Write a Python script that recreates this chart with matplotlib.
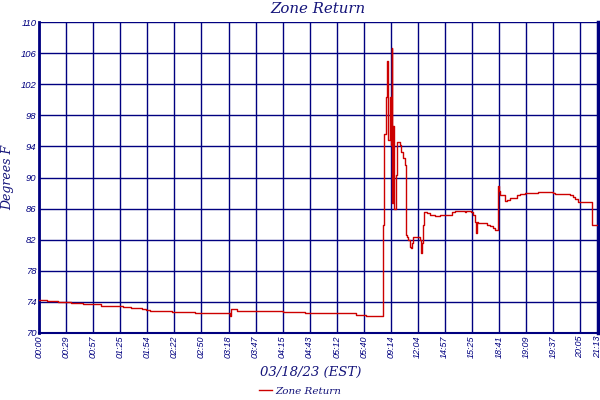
import matplotlib
matplotlib.use("Agg")
import matplotlib.pyplot as plt

# sample index / zone return temperature (deg F), step values
sample = [0, 9, 21, 35, 48, 68, 93, 102, 114, 118, 123, 147, 173, 212, 213,
          219, 271, 295, 352, 363, 382, 383, 384.5, 385.5, 386.5, 387.5, 389,
          390, 391, 391.8, 392.4, 393.2, 394, 396, 397.5, 400, 402, 404, 406,
          406.5, 408, 409.5, 411.3, 412.1, 413.2, 414.3, 420.5, 422.4, 423.5,
          424.6, 425.4, 426.8, 429.8, 433.5, 439, 445, 457.6, 461.3, 470.4,
          472.3, 473.5, 479.7, 481.5, 483.1, 484.2, 485.3, 487.1, 492.6, 496.4,
          500, 503.7, 505.6, 509.3, 509.7, 511.2, 516.7, 518.6, 522.2, 525.9,
          529.7, 533.3, 538.9, 542.5, 553.6, 566.6, 570.3, 572.2, 588.8, 592.5,
          594.4, 598, 609.1, 612.9, 613.5, 620]
temp = [74.2, 74.1, 73.95, 73.82, 73.7, 73.5, 73.35, 73.26, 73.1, 72.9, 72.83,
        72.7, 72.57, 72.2, 73.05, 72.83, 72.7, 72.57, 72.35, 72.2, 83.9, 95.6,
        100.4, 105.0, 95.7, 94.8, 100.4, 94.2, 106.7, 86.7, 96.6, 86.7, 86.0,
        90.3, 94.6, 94.2, 93.3, 92.5, 91.6, 82.6, 82.3, 82.0, 81.1, 80.9, 81.6,
        82.3, 82.3, 81.9, 80.25, 81.6, 83.9, 85.5, 85.4, 85.2, 85.0, 85.2, 85.5,
        85.65, 85.65, 85.5, 85.65, 85.6, 85.2, 84.3, 82.8, 84.3, 84.2, 84.1,
        83.95, 83.8, 83.55, 83.3, 88.9, 88.2, 87.75, 87.0, 87.1, 87.3, 87.4,
        87.7, 87.9, 87.95, 88.05, 88.1, 88.1, 88.0, 87.9, 87.7, 87.5, 87.2,
        86.9, 86.8, 86.7, 83.9, 83.9]

tick_pos = [0, 30, 60, 90, 120, 150, 180, 210, 240, 270, 300, 330, 360, 390,
            420, 450, 480, 510, 540, 570, 600, 620]
tick_labels = ["00:00", "00:29", "00:57", "01:25", "01:54", "02:22", "02:50",
               "03:18", "03:47", "04:15", "04:43", "05:12", "05:40", "09:14",
               "12:04", "14:57", "15:25", "18:41", "19:09", "19:37", "20:05",
               "21:13"]
y_ticks = [70, 74, 78, 82, 86, 90, 94, 98, 102, 106, 110]

navy = "#000080"
text_navy = "#14147a"

fig = plt.figure(figsize=(6, 4), dpi=100, facecolor="white")
ax = fig.add_axes([0.0655, 0.1675, 0.931, 0.7775])

ax.plot(sample, temp, drawstyle="steps-post", color="#cc0000", lw=1.0,
        label="Zone Return", zorder=3)

ax.set_xlim(0, 620)
ax.set_ylim(70, 110)
ax.set_xticks(tick_pos)
ax.set_xticklabels(tick_labels, rotation=90, fontsize=6.5, style="italic",
                   family="Liberation Sans", color=navy)
ax.set_yticks(y_ticks)
ax.set_yticklabels([str(v) for v in y_ticks], fontsize=6.8, style="italic",
                   family="Liberation Sans", color=navy)
ax.tick_params(length=0, pad=2)
ax.grid(True, color=navy, lw=1)
ax.set_axisbelow(True)

ax.spines["top"].set_visible(False)
ax.spines["left"].set_color(navy)
ax.spines["left"].set_linewidth(2)
ax.spines["bottom"].set_color(navy)
ax.spines["bottom"].set_linewidth(1.5)
ax.spines["right"].set_color(navy)
ax.spines["right"].set_linewidth(2.5)

serif = "DejaVu Serif"
fig.text(0.53, 0.977, "Zone Return", ha="center", va="center",
         fontsize=10.8, style="italic", weight="medium", family=serif,
         color=text_navy)
ax.set_ylabel("Degrees F", fontsize=9, style="italic", family=serif,
              color=text_navy, labelpad=5)
fig.text(0.517, 0.07, "03/18/23 (EST)", ha="center", va="center",
         fontsize=9.5, style="italic", family=serif, color=text_navy)

leg = fig.legend(loc="center", bbox_to_anchor=(0.5, 0.022), frameon=False,
                 prop={"family": serif, "style": "italic", "size": 7.5},
                 handlelength=1.3, handletextpad=0.3)
for t in leg.get_texts():
    t.set_color(text_navy)

fig.savefig("out.png", dpi=100, facecolor="white")
